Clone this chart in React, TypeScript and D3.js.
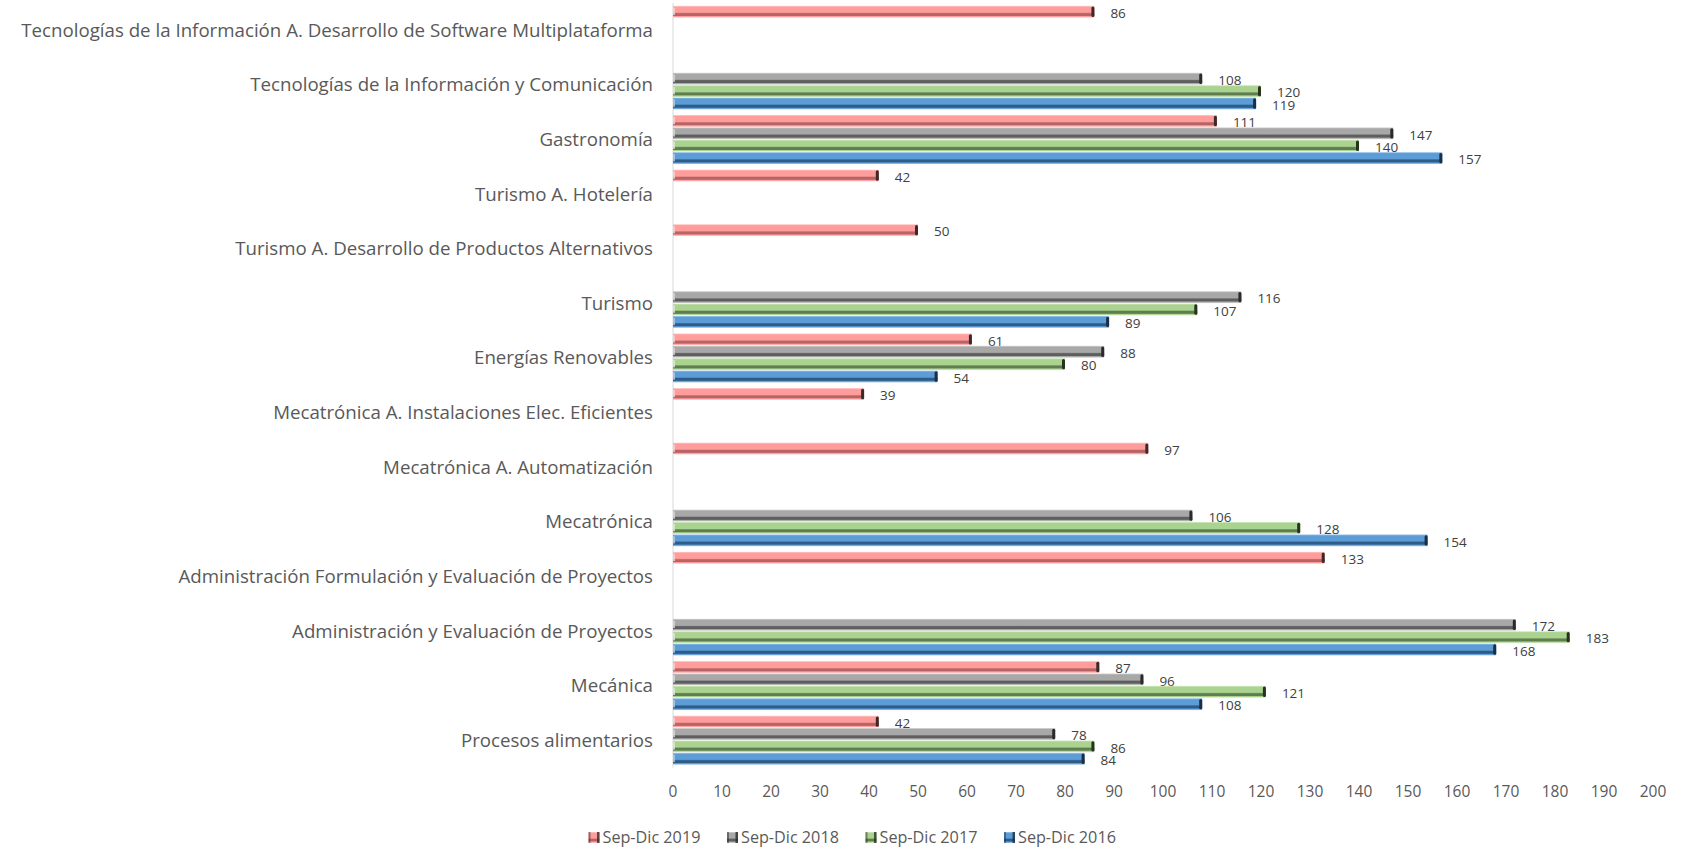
import React from "react";
import * as d3 from "d3";

const categories = [
  "Tecnologías de la Información A. Desarrollo de Software Multiplataforma",
  "Tecnologías de la Información y Comunicación",
  "Gastronomía",
  "Turismo A. Hotelería",
  "Turismo A. Desarrollo de Productos Alternativos",
  "Turismo",
  "Energías Renovables",
  "Mecatrónica A. Instalaciones Elec. Eficientes",
  "Mecatrónica A. Automatización",
  "Mecatrónica",
  "Administración Formulación y Evaluación de Proyectos",
  "Administración y Evaluación de Proyectos",
  "Mecánica",
  "Procesos alimentarios",
];

const seriesNames = ["Sep-Dic 2019", "Sep-Dic 2018", "Sep-Dic 2017", "Sep-Dic 2016"];

const s2019 = [86, null, 111, 42, 50, null, 61, 39, 97, null, 133, null, 87, 42];
const s2018 = [null, 108, 147, null, null, 116, 88, null, null, 106, null, 172, 96, 78];
const s2017 = [null, 120, 140, null, null, 107, 80, null, null, 128, null, 183, 121, 86];
const s2016 = [null, 119, 157, null, null, 89, 54, null, null, 154, null, 168, 108, 84];

const seriesValues = [s2019, s2018, s2017, s2016];

const xTicks = [0, 10, 20, 30, 40, 50, 60, 70, 80, 90, 100, 110, 120, 130, 140, 150, 160, 170, 180, 190, 200];

const palette = [
  { light: "#FFD0D0", main: "#FF9C9C", dark: "#B86464", cap: "#3a2a2a" },
  { light: "#D6D6D6", main: "#A8A8A8", dark: "#5E5E5E", cap: "#2a2a2a" },
  { light: "#D8EDCB", main: "#AAD38F", dark: "#5F7D4E", cap: "#26331f" },
  { light: "#A9CDEE", main: "#5C9DD8", dark: "#2F5C86", cap: "#1b2f44" },
];

const FONT = "'Open Sans', sans-serif";
const TEXT = "#595959";

export default function App() {
  const W = 1683;
  const H = 849;
  const x = d3.scaleLinear().domain([0, 200]).range([673, 1653]);
  const yCat = d3
    .scaleBand<number>()
    .domain(d3.range(categories.length))
    .range([3, 767.5])
    .paddingInner(0.093)
    .paddingOuter(0.0465);
  const ySer = d3
    .scaleBand<number>()
    .domain(d3.range(seriesNames.length))
    .range([0, yCat.bandwidth()]);
  const bh = ySer.bandwidth();

  return (
    <svg
      width={W}
      height={H}
      style={{ position: "absolute", left: 0, top: 0, background: "#fff" }}
    >
      <defs>
        {palette.map((p, i) => (
          <linearGradient key={i} id={`g${i}`} x1="0" y1="0" x2="0" y2="1">
            <stop offset="0" stopColor={p.light} />
            <stop offset="0.12" stopColor={p.main} />
            <stop offset="0.55" stopColor={p.main} />
            <stop offset="0.66" stopColor={p.dark} />
            <stop offset="0.82" stopColor={p.dark} />
            <stop offset="0.9" stopColor={p.main} />
            <stop offset="1" stopColor={p.light} />
          </linearGradient>
        ))}
      </defs>

      {/* vertical axis line */}
      <line x1={x(0)} x2={x(0)} y1={3} y2={767.5} stroke="#D9D9D9" strokeWidth={1} />

      {/* category labels */}
      {categories.map((c, i) => (
        <text
          key={c}
          x={653}
          y={(yCat(i) as number) + yCat.bandwidth() / 2}
          dy="0.35em"
          textAnchor="end"
          fontFamily={FONT}
          fontSize={18.7}
          fill={TEXT}
        >
          {c}
        </text>
      ))}

      {/* bars */}
      {seriesValues.map((vals, si) =>
        vals.map((v, ci) => {
          if (v == null) return null;
          const y0 = (yCat(ci) as number) + (ySer(si) as number);
          const x0 = x(0);
          const x1 = x(v);
          const p = palette[si];
          return (
            <g key={`${si}-${ci}`}>
              <rect x={x0} y={y0 + 0.25} width={x1 - x0} height={bh - 0.5} fill={`url(#g${si})`} />
              <rect x={x0} y={y0 + 2} width={2} height={bh - 5} fill={p.light} opacity={0.8} />
              <rect x={x1 - 3} y={y0 + 1} width={3} height={bh - 2} rx={1.5} fill={p.cap} />
              <text
                x={x1 + 16}
                y={y0 + bh / 2 + 1.5}
                dy="0.35em"
                fontFamily={FONT}
                fontSize={13.5}
                fill="#404040"
              >
                {v}
              </text>
            </g>
          );
        })
      )}

      {/* x tick labels */}
      {xTicks.map((t) => (
        <text
          key={t}
          x={x(t)}
          y={792}
          dy="0.35em"
          textAnchor="middle"
          fontFamily={FONT}
          fontSize={15.5}
          fill={TEXT}
        >
          {t}
        </text>
      ))}

      {/* legend */}
      {seriesNames.map((name, i) => {
        const lx = 588.5 + i * 138.5;
        const p = palette[i];
        return (
          <g key={name}>
            <rect x={lx} y={832} width={11} height={11} fill={`url(#g${i})`} />
            <rect x={lx} y={832} width={2} height={11} fill={p.cap} opacity={0.5} />
            <rect x={lx + 8.5} y={832} width={2.5} height={11} fill={p.cap} opacity={0.8} />
            <text
              x={lx + 14}
              y={837.5}
              dy="0.35em"
              fontFamily={FONT}
              fontSize={16.2}
              fill={TEXT}
            >
              {name}
            </text>
          </g>
        );
      })}
    </svg>
  );
}
